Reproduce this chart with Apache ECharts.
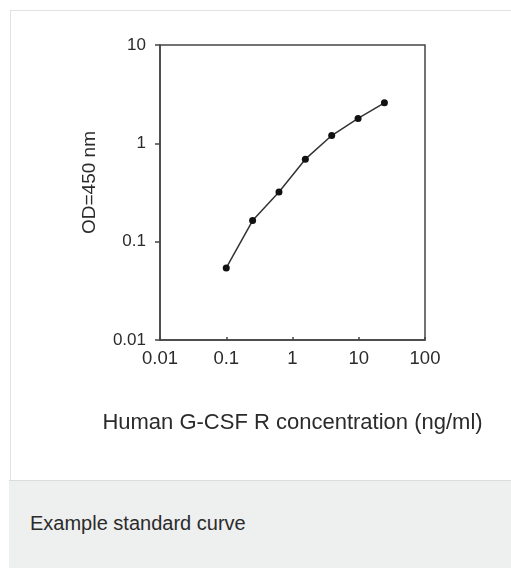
<!DOCTYPE html>
<html>
<head>
<meta charset="utf-8">
<script src="https://cdn.jsdelivr.net/npm/echarts@6/dist/echarts.min.js"></script>
<style>
  html, body { margin: 0; padding: 0; background: #fff; }
  #wrap { position: relative; width: 511px; height: 568px; overflow: hidden; }
  #frame { position: absolute; left: 10px; top: 10px; width: 501px; height: 470px;
           border-top: 1px solid #e2e2e2; border-left: 1px solid #e2e2e2; box-sizing: border-box; }
  #caption { position: absolute; left: 9px; top: 480px; width: 502px; height: 88px;
             background: #eeefef; border-top: 1px solid #dcdcdc; box-sizing: border-box;
             font-family: "Liberation Sans", Arial, sans-serif; font-size: 20px; color: #2b2b2b;
             padding-left: 21px; line-height: 84px; }
  #chart { position: absolute; left: 0; top: 0; width: 511px; height: 480px; }
</style>
</head>
<body>
<div id="wrap">
  <div id="frame"></div>
  <div id="chart"></div>
  <div id="caption">Example standard curve</div>
</div>
<script>
const concentration = [0.1, 0.25, 0.625, 1.5625, 3.906, 9.766, 24.414];
const od450 = [0.054, 0.164, 0.32, 0.69, 1.2, 1.79, 2.58];
const xTickLabels = ['0.01', '0.1', '1', '10', '100'];
const yTickLabels = ['0.01', '0.1', '1', '10'];
const xTitle = 'Human G-CSF R concentration (ng/ml)';
const yTitle = 'OD=450 nm';

const chart = echarts.init(document.getElementById('chart'), null, { renderer: 'canvas' });
const font = '"Liberation Sans", Arial, sans-serif';
const fmt = (list) => (v) => {
  const s = list.find(t => Math.abs(Math.log10(parseFloat(t)) - Math.log10(v)) < 1e-6);
  return s || '';
};
chart.setOption({
  animation: false,
  backgroundColor: 'transparent',
  grid: { left: 160, top: 45, width: 265, height: 295, show: true, borderColor: '#444', borderWidth: 1.5, backgroundColor: 'transparent' },
  xAxis: {
    type: 'log', logBase: 10, min: 0.01, max: 100,
    name: xTitle, nameLocation: 'middle', nameGap: 72,
    nameTextStyle: { fontFamily: font, fontSize: 22, color: '#2b2b2b' },
    axisLine: { show: true, lineStyle: { color: '#444', width: 1.5 } },
    axisTick: { show: true, inside: true, length: 3, lineStyle: { color: '#444', width: 1.5 } },
    minorTick: { show: false },
    splitLine: { show: false },
    axisLabel: { fontFamily: font, fontSize: 18.5, color: '#2b2b2b', margin: 9, formatter: fmt(xTickLabels) }
  },
  yAxis: {
    type: 'log', logBase: 10, min: 0.01, max: 10,
    name: yTitle, nameLocation: 'middle', nameGap: 61, nameRotate: 90,
    nameTextStyle: { fontFamily: font, fontSize: 19, color: '#2b2b2b', padding: [0, 0, 0, 20] },
    axisLine: { show: true, lineStyle: { color: '#444', width: 1.5 } },
    axisTick: { show: true, inside: false, length: 5, lineStyle: { color: '#444', width: 1.5 } },
    splitLine: { show: false },
    axisLabel: { fontFamily: font, fontSize: 17, color: '#2b2b2b', margin: 14, formatter: fmt(yTickLabels) }
  },
  series: [{
    type: 'line',
    data: concentration.map((c, i) => [c, od450[i]]),
    symbol: 'circle', symbolSize: 7,
    itemStyle: { color: '#111' },
    lineStyle: { color: '#333', width: 1.5 }
  }]
});
</script>
</body>
</html>
